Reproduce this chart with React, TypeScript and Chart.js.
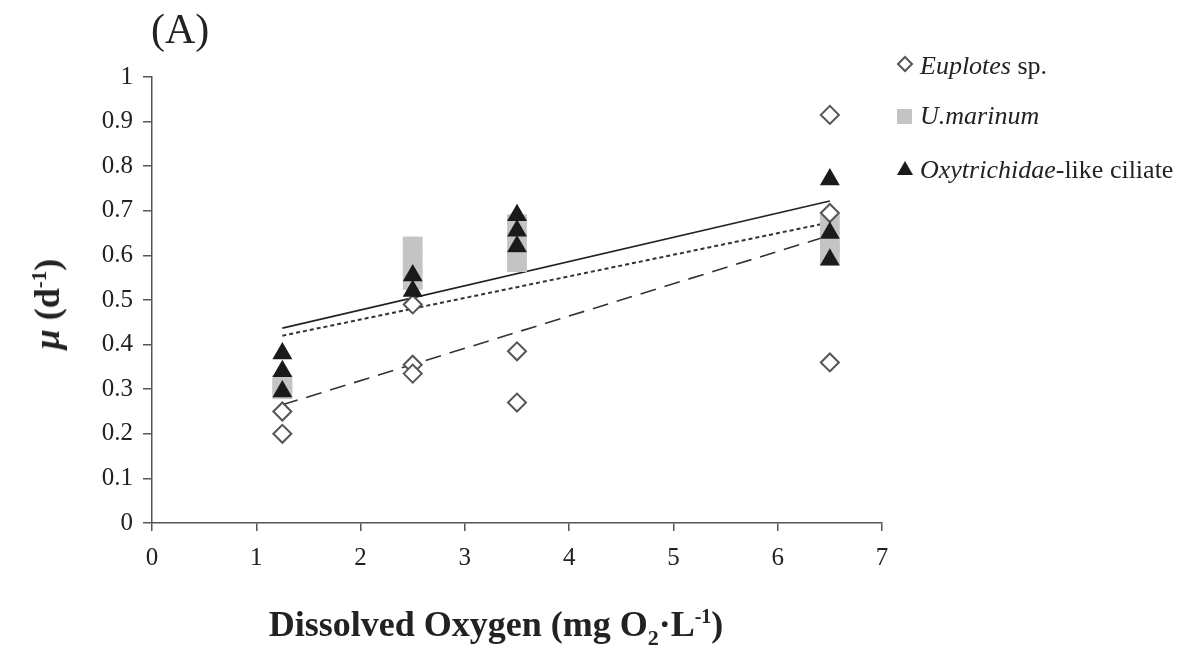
import React, { useEffect, useRef } from "react";
import { Chart, registerables } from "chart.js";
Chart.register(...registerables);

// Euplotes sp. (open diamonds)
const euplotesX = [1.25, 1.25, 2.5, 2.5, 2.5, 3.5, 3.5, 6.5, 6.5, 6.5];
const euplotesY = [0.25, 0.2, 0.355, 0.335, 0.49, 0.385, 0.27, 0.915, 0.695, 0.36];
// U. marinum (grey squares)
const marinumX = [1.25, 1.25, 2.5, 2.5, 2.5, 3.5, 3.5, 3.5, 6.5, 6.5, 6.5];
const marinumY = [0.3, 0.31, 0.62, 0.58, 0.545, 0.67, 0.63, 0.585, 0.67, 0.63, 0.6];
// Oxytrichidae-like ciliate (black triangles)
const oxyX = [1.25, 1.25, 1.25, 2.5, 2.5, 3.5, 3.5, 3.5, 6.5, 6.5, 6.5];
const oxyY = [0.38, 0.34, 0.295, 0.555, 0.52, 0.69, 0.655, 0.62, 0.77, 0.65, 0.59];
// Trend lines (end points)
const trendX = [1.25, 6.5];
const trendSolidY = [0.437, 0.722];
const trendShortDashY = [0.42, 0.674];
const trendLongDashY = [0.265, 0.645];
// Tick labels
const xTickLabels = ["0", "1", "2", "3", "4", "5", "6", "7"];
const yTickLabels = ["0", "0.1", "0.2", "0.3", "0.4", "0.5", "0.6", "0.7", "0.8", "0.9", "1"];

const SERIF = '"Liberation Serif", "Times New Roman", serif';

const pts = (xs: number[], ys: number[]) => xs.map((x, i) => ({ x, y: ys[i] }));

export default function App() {
  const ref = useRef<HTMLCanvasElement | null>(null);
  useEffect(() => {
    if (!ref.current) return;
    const chart = new Chart(ref.current, {
      type: "scatter",
      data: {
        datasets: [
          {
            label: "Oxytrichidae-like ciliate",
            data: pts(oxyX, oxyY),
            pointStyle: "triangle",
            pointRadius: 11.5,
            backgroundColor: "#1a1a1a",
            borderColor: "#1a1a1a",
            borderWidth: 0,
          },
          {
            label: "Euplotes sp.",
            data: pts(euplotesX, euplotesY),
            pointStyle: "rectRot",
            pointRadius: 9,
            backgroundColor: "#ffffff",
            borderColor: "#555555",
            borderWidth: 2,
          },
          {
            label: "U.marinum",
            data: pts(marinumX, marinumY),
            pointStyle: "rect",
            pointRadius: 14,
            backgroundColor: "#c4c4c6",
            borderColor: "#c4c4c6",
            borderWidth: 0,
          },
          {
            label: "trend1",
            data: pts(trendX, trendSolidY),
            showLine: true,
            pointRadius: 0,
            borderColor: "#222222",
            borderWidth: 1.6,
          },
          {
            label: "trend2",
            data: pts(trendX, trendShortDashY),
            showLine: true,
            pointRadius: 0,
            borderColor: "#333333",
            borderWidth: 2,
            borderDash: [4, 3],
          },
          {
            label: "trend3",
            data: pts(trendX, trendLongDashY),
            showLine: true,
            pointRadius: 0,
            borderColor: "#333333",
            borderWidth: 1.6,
            borderDash: [16, 9],
          },
        ],
      },
      options: {
        responsive: false,
        animation: false,
        devicePixelRatio: 1,
        layout: { padding: { top: 77, right: 312, bottom: 0, left: 0 } },
        plugins: { legend: { display: false }, tooltip: { enabled: false }, title: { display: false } },
        scales: {
          x: {
            type: "linear",
            min: 0,
            max: 7,
            afterFit: (s: any) => {
              s.height = 125;
            },
            ticks: {
              stepSize: 1,
              padding: 12,
              color: "#222",
              font: { family: SERIF, size: 25 },
              callback: (_v: any, i: number) => xTickLabels[i],
            },
            grid: { drawOnChartArea: false, drawTicks: true, tickLength: 8, color: "#555", lineWidth: 1.5 },
            border: { display: true, color: "#555", width: 1.5 },
          },
          y: {
            type: "linear",
            min: 0,
            max: 1,
            afterFit: (s: any) => {
              s.width = 152;
            },
            ticks: {
              stepSize: 0.1,
              padding: 10,
              color: "#222",
              font: { family: SERIF, size: 25 },
              callback: (_v: any, i: number) => yTickLabels[i],
            },
            grid: { drawOnChartArea: false, drawTicks: true, tickLength: 9, color: "#555", lineWidth: 1.5 },
            border: { display: true, color: "#555", width: 1.5 },
          },
        },
      },
    });
    return () => chart.destroy();
  }, []);

  const legendText: React.CSSProperties = {
    position: "absolute",
    left: 920,
    fontFamily: SERIF,
    fontSize: 26,
    color: "#222",
    whiteSpace: "nowrap",
    lineHeight: "30px",
  };

  return (
    <div style={{ position: "fixed", left: 0, top: 0, width: 1194, height: 648, background: "#fff" }}>
      <canvas ref={ref} width={1194} height={648} style={{ position: "absolute", left: 0, top: 0 }} />
      <div style={{ position: "absolute", left: 151, top: 6, fontFamily: SERIF, fontSize: 42, color: "#222", lineHeight: "46px" }}>
        (A)
      </div>
      <div
        style={{
          position: "absolute",
          left: 47,
          top: 304,
          transform: "translate(-50%, -50%) rotate(-90deg)",
          fontFamily: SERIF,
          fontWeight: "bold",
          fontSize: 36,
          color: "#222",
          whiteSpace: "nowrap",
        }}
      >
        <i>μ</i> (d<sup style={{ fontSize: 21 }}>-1</sup>)
      </div>
      <div
        style={{
          position: "absolute",
          left: 496,
          top: 627,
          transform: "translate(-50%, -50%)",
          fontFamily: SERIF,
          fontWeight: "bold",
          fontSize: 36,
          color: "#222",
          whiteSpace: "nowrap",
        }}
      >
        Dissolved Oxygen (mg O<sub style={{ fontSize: 22 }}>2</sub>·L<sup style={{ fontSize: 20 }}>-1</sup>)
      </div>
      <svg width={40} height={200} style={{ position: "absolute", left: 890, top: 40 }}>
        <polygon points="15,17 22,24 15,31 8,24" fill="#fff" stroke="#555" strokeWidth={2} />
        <rect x={7} y={69} width={15} height={15} fill="#c4c4c6" />
        <polygon points="15,121 23,135 7,135" fill="#1a1a1a" />
      </svg>
      <div style={{ ...legendText, top: 51 }}>
        <i>Euplotes</i> sp.
      </div>
      <div style={{ ...legendText, top: 101 }}>
        <i>U.marinum</i>
      </div>
      <div style={{ ...legendText, top: 155 }}>
        <i>Oxytrichidae</i>-like ciliate
      </div>
    </div>
  );
}
